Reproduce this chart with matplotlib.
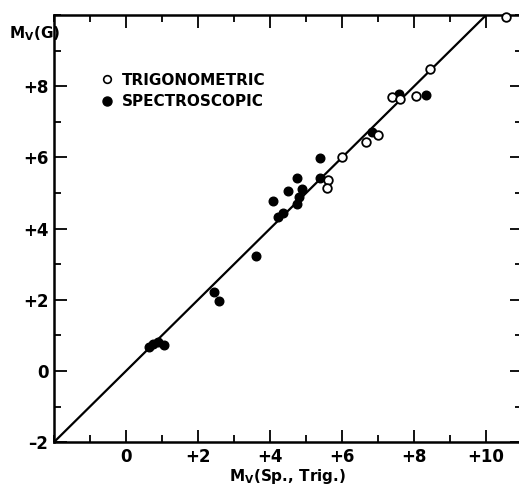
import matplotlib
matplotlib.use("Agg")
import matplotlib.pyplot as plt
from matplotlib.ticker import MultipleLocator, FuncFormatter
from matplotlib.lines import Line2D

# Trigonometric (open circles)
trig_x = [5.60, 5.58, 5.99, 6.67, 7.01, 7.40, 7.61, 8.04, 8.44, 10.56]
trig_y = [5.36, 5.14, 6.01, 6.43, 6.63, 7.70, 7.63, 7.73, 8.50, 9.95]

# Spectroscopic (filled circles)
spec_x = [0.65, 0.75, 0.88, 1.05, 2.45, 2.59, 3.61, 4.07, 4.23, 4.35, 4.50,
          4.76, 4.88, 4.81, 4.75, 5.39, 5.39, 6.82, 7.58, 8.34]
spec_y = [0.68, 0.76, 0.80, 0.73, 2.21, 1.97, 3.22, 4.79, 4.32, 4.44, 5.07,
          5.41, 5.10, 4.88, 4.68, 5.99, 5.43, 6.71, 7.77, 7.75]

line_x = [-2, 11]
line_y = [-2, 11]

x_ticks = [0, 2, 4, 6, 8, 10]
y_ticks = [-2, 0, 2, 4, 6, 8]

plt.rcParams['font.family'] = ['DejaVu Sans']
plt.rcParams['font.weight'] = 'bold'
plt.rcParams['axes.labelweight'] = 'bold'
plt.rcParams['mathtext.default'] = 'regular'

fig = plt.figure(figsize=(5.19, 4.88), dpi=100)
ax = fig.add_axes([0.104, 0.094, 0.902, 0.875])

ax.plot(line_x, line_y, color='black', lw=1.6, zorder=2)
ax.plot(spec_x, spec_y, 'o', color='black', ms=6.2, zorder=3, clip_on=False)
ax.plot(trig_x, trig_y, 'o', mfc='white', mec='black', mew=1.3, ms=6.2,
        zorder=4, clip_on=False)

ax.set_xlim(-2, 11)
ax.set_ylim(-2, 10)

def fmt(v, pos):
    v = int(round(v))
    if v > 0:
        return '+%d' % v
    if v < 0:
        return '\u2013%d' % (-v)
    return '0'

ax.set_xticks(x_ticks)
ax.set_yticks(y_ticks)
ax.xaxis.set_minor_locator(MultipleLocator(1))
ax.yaxis.set_minor_locator(MultipleLocator(1))
ax.xaxis.set_major_formatter(FuncFormatter(fmt))
ax.yaxis.set_major_formatter(FuncFormatter(fmt))

ax.tick_params(which='both', direction='in', top=True, right=True,
               width=1.3, labelsize=12)
ax.tick_params(which='major', length=9, pad=4)
ax.tick_params(which='minor', length=5)
for s in ax.spines.values():
    s.set_linewidth(1.8)

ax.set_xlabel('M$_{V}$(Sp., Trig.)', fontsize=11, fontweight='bold', labelpad=1)
fig.text(0.018, 0.932, 'M$_{V}$(G)', fontsize=11, fontweight='bold',
         ha='left', va='center')

handles = [Line2D([], [], ls='none', marker='o', mfc='white', mec='black',
                  mew=1.2, ms=5.5),
           Line2D([], [], ls='none', marker='o', color='black', ms=6.5)]
leg = ax.legend(handles, ['TRIGONOMETRIC', 'SPECTROSCOPIC'], loc='upper left',
                bbox_to_anchor=(0.1, 0.865), frameon=False, fontsize=11,
                handlelength=0.8, handletextpad=0.6, labelspacing=0.4,
                borderpad=0, borderaxespad=0)

fig.savefig('out.png', dpi=100)
